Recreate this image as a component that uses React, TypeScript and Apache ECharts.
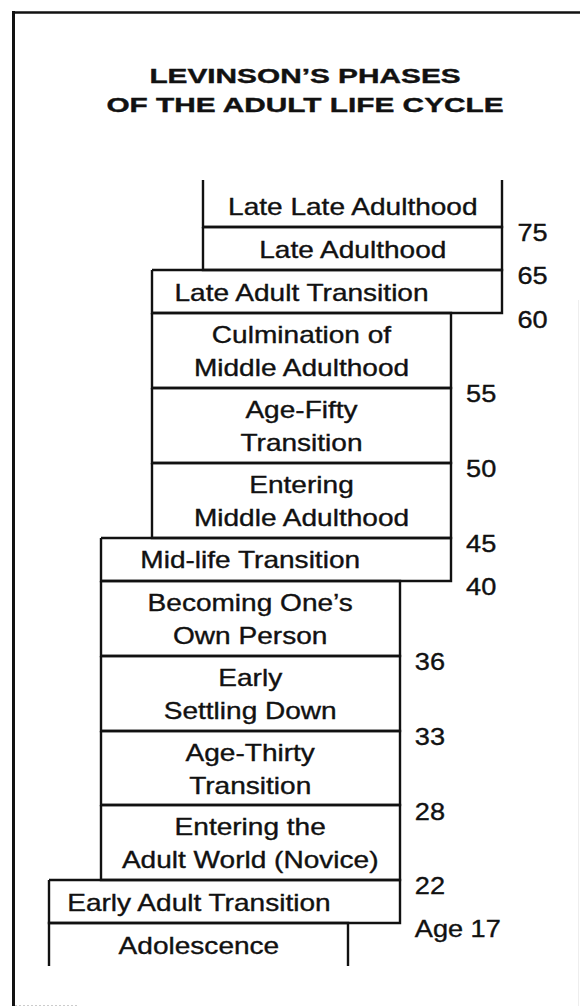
import React, { useEffect, useRef } from "react";
import * as echarts from "echarts";

// ---- data ----
const titleLines = ["LEVINSON’S PHASES", "OF THE ADULT LIFE CYCLE"];

// phases from youngest (bottom) to oldest (top)
const phases = [
  "Adolescence",
  "Early Adult Transition",
  "Entering the\nAdult World (Novice)",
  "Age-Thirty\nTransition",
  "Early\nSettling Down",
  "Becoming One’s\nOwn Person",
  "Mid-life Transition",
  "Entering\nMiddle Adulthood",
  "Age-Fifty\nTransition",
  "Culmination of\nMiddle Adulthood",
  "Late Adult Transition",
  "Late Adulthood",
  "Late Late Adulthood",
];
// staircase indent of each box's left and right edge (in steps)
const leftStep = [0, 0, 1, 1, 1, 1, 1, 2, 2, 2, 2, 3, 3];
const rightStep = [0, 1, 1, 1, 1, 1, 2, 2, 2, 2, 3, 3, 3];
// age at the boundary above phase k
const ageLabels = ["Age 17", "22", "28", "33", "36", "40", "45", "50", "55", "60", "65", "75"];

// ---- layout constants ----
const COL_WIDTH = 5.832; // box width in step units
const ONE_LINE = 0.575; // row height of a one-line box (two-line box = 1)
const TWO_LINE = 1;
const INK = "#111";
const FONT = "'Liberation Sans', Arial, sans-serif";

let cum = 0;
const boxData = phases.map((name, i) => {
  const h = name.includes("\n") ? TWO_LINE : ONE_LINE;
  const y0 = cum;
  cum += h;
  const x0 = leftStep[i];
  const x1 = rightStep[i] + COL_WIDTH;
  const belowX1 = i > 0 ? rightStep[i - 1] + COL_WIDTH : x1;
  const cx = (x0 + Math.min(x1, belowX1)) / 2;
  return [x0, x1, y0, cum, cx, i];
});
const total = cum;
const ageData = ageLabels.map((lab, k) => [
  Math.max(rightStep[k], rightStep[k + 1]) + COL_WIDTH,
  boxData[k][3],
  k,
]);

export default function App() {
  const ref = useRef<HTMLDivElement>(null);
  useEffect(() => {
    document.body.style.margin = "0";
    const chart = echarts.init(ref.current!, undefined, { renderer: "svg" });
    const last = phases.length - 1;
    chart.setOption({
      animation: false,
      backgroundColor: "#fff",
      grid: { left: 49.3, right: 77.6, top: 184.2, bottom: 41.7 },
      xAxis: { type: "value", min: 0, max: 3 + COL_WIDTH, show: false },
      yAxis: { type: "value", min: 0, max: total, show: false },
      graphic: [
        { type: "line", shape: { x1: 13.5, y1: 11, x2: 13.5, y2: 1006 }, style: { stroke: INK, lineWidth: 3 } },
        { type: "line", shape: { x1: 12, y1: 12.5, x2: 580, y2: 12.5 }, style: { stroke: INK, lineWidth: 2.5 } },
        { type: "line", shape: { x1: 578.5, y1: 300, x2: 578.5, y2: 1006 }, style: { stroke: "#eeeeee", lineWidth: 1 } },
        { type: "line", shape: { x1: 15, y1: 1005.5, x2: 78, y2: 1005.5 }, style: { stroke: "#cccccc", lineWidth: 1, lineDash: [2, 2] } },
        ...titleLines.map((t, k) => ({
          type: "text",
          x: 305,
          y: 75.5 + k * 29,
          scaleX: 1.42,
          style: {
            text: t,
            x: 0,
            y: 0,
            align: "center",
            verticalAlign: "middle",
            fontFamily: FONT,
            fontWeight: "bold",
            fontSize: 21,
            fill: INK,
            stroke: INK,
            lineWidth: 0.4,
          },
        })),
      ],
      series: [
        {
          type: "custom",
          clip: false,
          data: boxData,
          renderItem: (params: any, api: any) => {
            const x0 = api.value(0), x1 = api.value(1), y0 = api.value(2), y1 = api.value(3);
            const cx = api.value(4);
            const i = api.value(5);
            const bl = api.coord([x0, y0]);
            const tr = api.coord([x1, y1]);
            const L = Math.round(bl[0]), R = Math.round(tr[0]);
            const B = Math.round(bl[1]), T = Math.round(tr[1]);
            let pts: number[][];
            if (i === 0) pts = [[L, B], [L, T], [R, T], [R, B]];
            else if (i === last) pts = [[L, T - 4], [L, B], [R, B], [R, T - 4]];
            else pts = [[L, T], [R, T], [R, B], [L, B], [L, T]];
            const c = api.coord([cx, (y0 + y1) / 2]);
            return {
              type: "group",
              children: [
                { type: "polyline", shape: { points: pts }, style: { stroke: INK, lineWidth: 2.4, fill: null, lineJoin: "miter" } },
                {
                  type: "text",
                  x: c[0],
                  y: c[1] + 1,
                  scaleX: 1.22,
                  style: {
                    text: phases[i],
                    x: 0,
                    y: 0,
                    align: "center",
                    verticalAlign: "middle",
                    fontFamily: FONT,
                    fontSize: 23,
                    lineHeight: 33,
                    fill: INK,
                    stroke: INK,
                    lineWidth: 0.35,
                  },
                },
              ],
            };
          },
        },
        {
          type: "custom",
          clip: false,
          data: ageData,
          renderItem: (params: any, api: any) => {
            const p = api.coord([api.value(0), api.value(1)]);
            const k = api.value(2);
            return {
              type: "text",
              x: p[0] + 15,
              y: p[1] + 6,
              scaleX: 1.18,
              style: {
                text: ageLabels[k],
                x: 0,
                y: 0,
                align: "left",
                verticalAlign: "middle",
                fontFamily: FONT,
                fontSize: 23,
                fill: INK,
                stroke: INK,
                lineWidth: 0.35,
              },
            };
          },
        },
      ],
    });
    return () => chart.dispose();
  }, []);
  return (
    <div
      ref={ref}
      style={{ position: "absolute", left: 0, top: 0, width: 580, height: 1008, background: "#fff" }}
    />
  );
}
